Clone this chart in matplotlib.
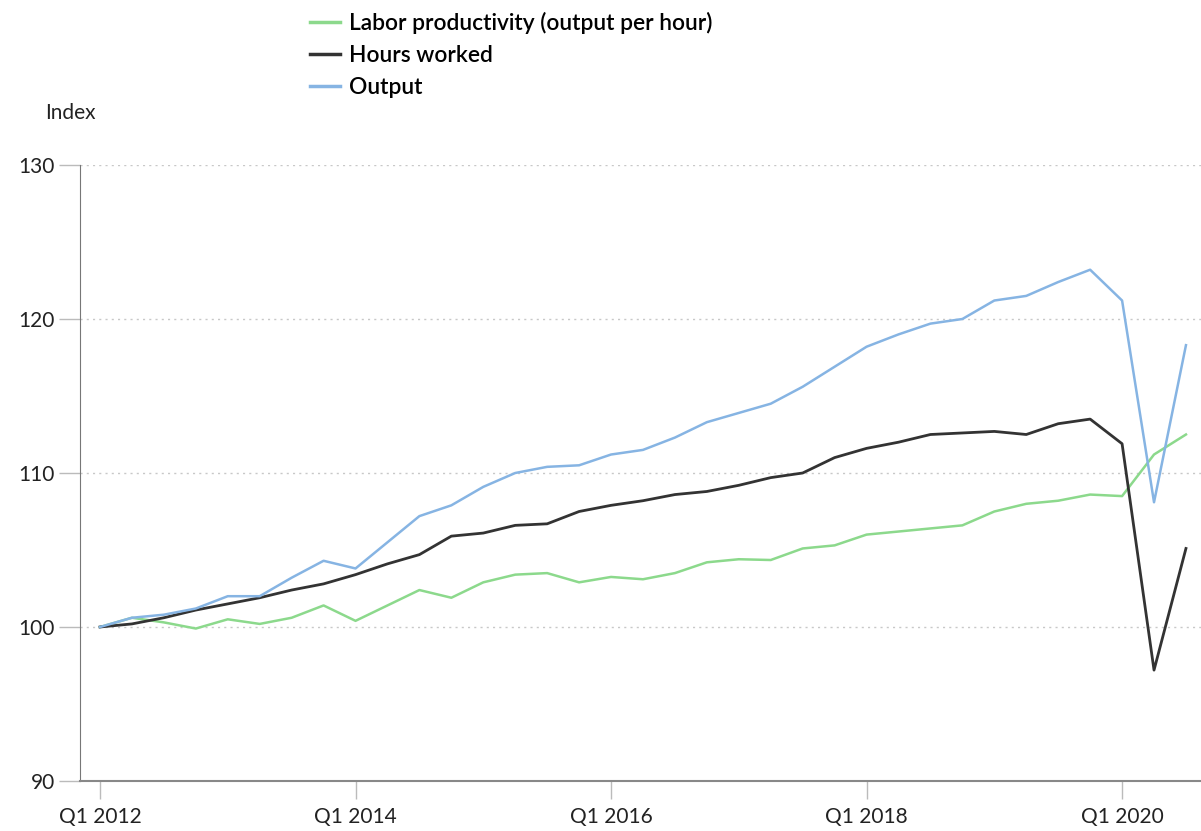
import matplotlib
matplotlib.use("Agg")
import matplotlib.pyplot as plt
from matplotlib.lines import Line2D

quarters = [f"Q{q} {y}" for y in range(2012, 2021) for q in range(1, 5)][:35]
tick_labels = ["Q1 2012", "Q1 2014", "Q1 2016", "Q1 2018", "Q1 2020"]

productivity = [100.0, 100.6, 100.3, 99.9, 100.5, 100.2, 100.6, 101.4, 100.4, 101.4,
                102.4, 101.9, 102.9, 103.4, 103.5, 102.9, 103.25, 103.1, 103.5, 104.2,
                104.4, 104.35, 105.1, 105.3, 106.0, 106.2, 106.4, 106.6, 107.5, 108.0,
                108.2, 108.6, 108.5, 111.2, 112.5]
hours = [100.0, 100.2, 100.6, 101.1, 101.5, 101.9, 102.4, 102.8, 103.4, 104.1,
         104.7, 105.9, 106.1, 106.6, 106.7, 107.5, 107.9, 108.2, 108.6, 108.8,
         109.2, 109.7, 110.0, 111.0, 111.6, 112.0, 112.5, 112.6, 112.7, 112.5,
         113.2, 113.5, 111.9, 97.2, 105.1]
output = [100.0, 100.6, 100.8, 101.2, 102.0, 102.0, 103.2, 104.3, 103.8, 105.5,
          107.2, 107.9, 109.1, 110.0, 110.4, 110.5, 111.2, 111.5, 112.3, 113.3,
          113.9, 114.5, 115.6, 116.9, 118.2, 119.0, 119.7, 120.0, 121.2, 121.5,
          122.4, 123.2, 121.2, 108.1, 118.3]

plt.rcParams['font.family'] = ['Lato', 'DejaVu Sans']

fig = plt.figure(figsize=(12.01, 8.31), dpi=100)
ax = fig.add_axes([80/1201, 1 - 781/831, 1 - 80/1201, (781 - 165)/831])

x = list(range(len(quarters)))
c_green = "#8cd98c"
c_black = "#333333"
c_blue = "#86b4e3"
ax.plot(x, productivity, color=c_green, lw=1.8, label="Labor productivity (output per hour)")
ax.plot(x, hours, color=c_black, lw=2.0, label="Hours worked")
ax.plot(x, output, color=c_blue, lw=1.8, label="Output")

ax.set_xlim(-20/31.94, (1201 - 100)/31.94)
ax.set_ylim(90, 130)
ax.set_yticks([90, 100, 110, 120, 130])
ax.set_yticklabels(["90", "100", "110", "120", "130"], fontsize=15, color="#222222")
ax.set_xticks([quarters.index(t) for t in tick_labels])
ax.set_xticklabels(tick_labels, fontsize=15, color="#222222")
ax.tick_params(axis='y', length=15, width=1, color="#bbbbbb", pad=3)
ax.tick_params(axis='x', length=13, width=1, color="#bbbbbb", pad=6)

for v in [100, 110, 120, 130]:
    ax.axhline(v, color="#c8c8c8", lw=1.0, ls=(0, (1.5, 3)), zorder=0)

for s in ["top", "right"]:
    ax.spines[s].set_visible(False)
ax.spines["left"].set_color("#777777")
ax.spines["bottom"].set_color("#888888")
ax.spines["bottom"].set_linewidth(1.5)

fig.text(45/1201, 1 - 113/831, "Index", fontsize=15, color="#222222", va="center", ha="left")

handles = [Line2D([0], [0], color=c_green, lw=2.5),
           Line2D([0], [0], color=c_black, lw=2.5),
           Line2D([0], [0], color=c_blue, lw=2.5)]
labels = ["Labor productivity (output per hour)", "Hours worked", "Output"]
fig.legend(handles, labels, loc="upper left", bbox_to_anchor=(289/1201, 1 + 9/831),
           frameon=False, handlelength=1.35, handletextpad=0.4,
           labelspacing=0.5, prop={'family': ['Lato', 'DejaVu Sans'], 'weight': 'semibold', 'size': 16.4})

fig.savefig("out.png", dpi=100, facecolor="white")
